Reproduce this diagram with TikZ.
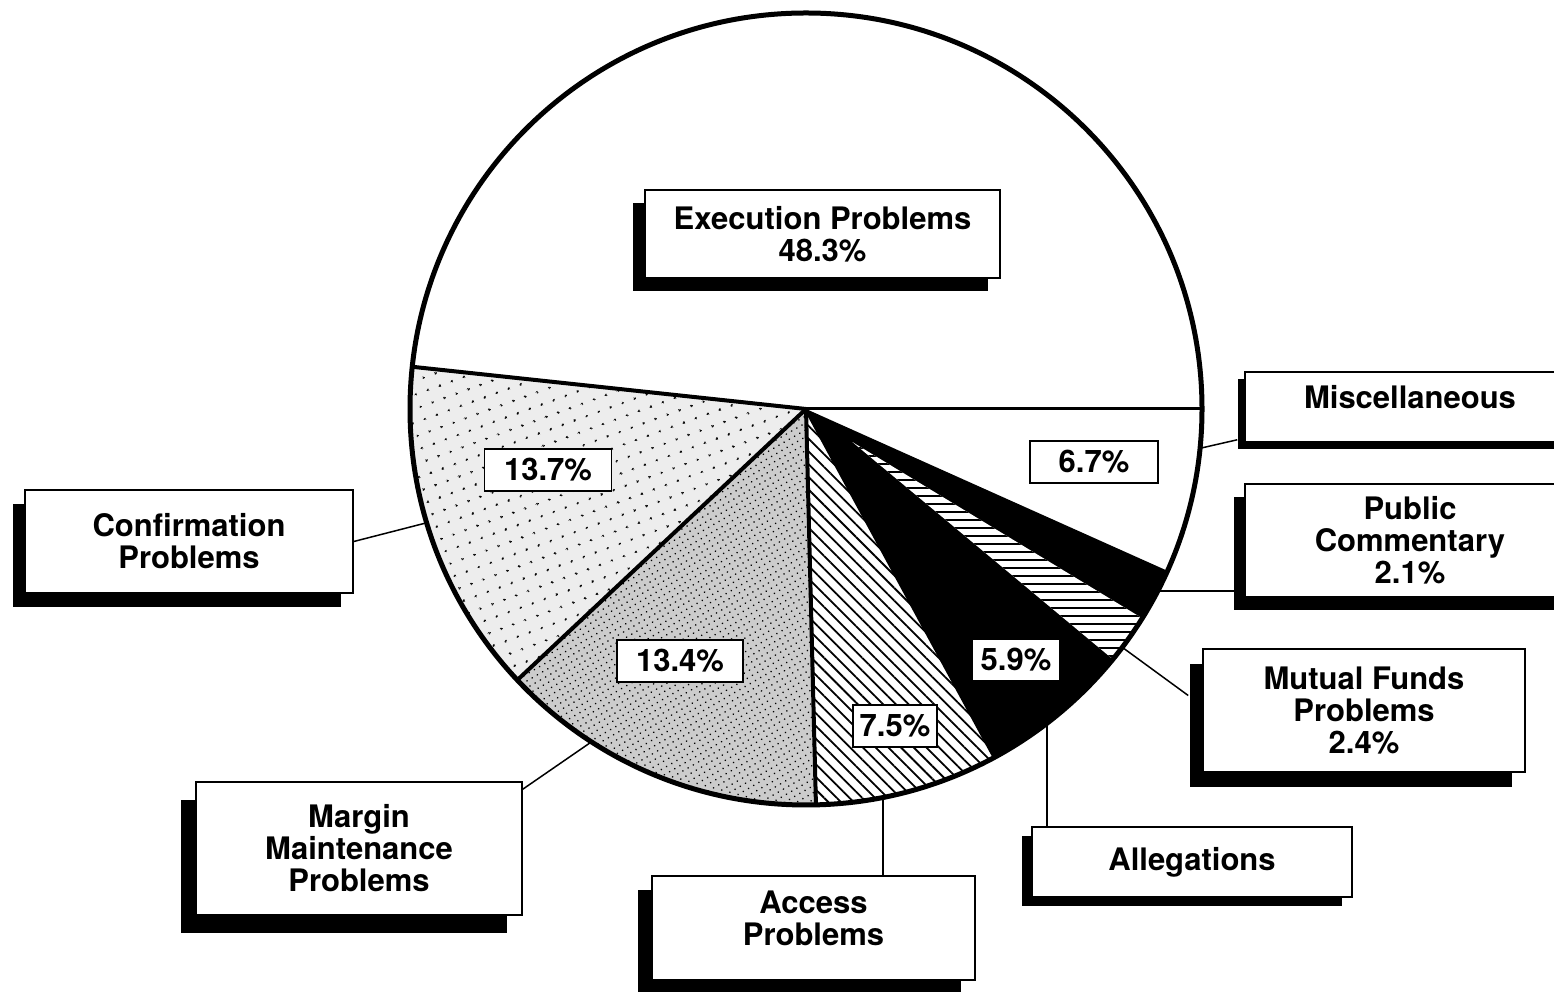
\documentclass[tikz,border=0pt]{standalone}
\usepackage{fontspec}
\setmainfont{TeX Gyre Heros}
\usetikzlibrary{patterns.meta,shadows,calc}
\begin{document}
\begin{tikzpicture}[x=1pt,y=1pt,
  box/.style={draw=black, line width=1.6pt, fill=white, font=\bfseries\fontsize{31}{32}\selectfont, align=center, inner sep=0pt},
  sh/.style 2 args={drop shadow={shadow xshift=#1, shadow yshift=#2, opacity=1, fill=black}},
  pct/.style={draw=black, line width=1.6pt, fill=white, font=\bfseries\fontsize{31}{32}\selectfont, minimum height=42pt, inner sep=0pt},
  conn/.style={line width=1.5pt},
  sep/.style={line width=4pt},
]
\useasboundingbox (0,0) rectangle (1554,992);
\clip (0,0) rectangle (1554,992);
\fill[white] (0,0) rectangle (1554,992);
\coordinate (C) at (806,583);
\def\R{396}
% slices
\path[preaction={fill=black!7}, pattern={Dots[distance=13pt,radius=1.4pt,angle=20]}]
  (C) -- ++(173.88:\R) arc[start angle=173.88, end angle=223.2, radius=\R] -- cycle;
\path[preaction={fill=black!20}, pattern={Dots[distance=6pt,radius=0.9pt,angle=30]}]
  (C) -- ++(223.2:\R) arc[start angle=223.2, end angle=271.44, radius=\R] -- cycle;
\path[preaction={fill=white}, pattern={Lines[angle=-45,distance=9pt,line width=1.8pt]}]
  (C) -- ++(271.44:\R) arc[start angle=271.44, end angle=298.44, radius=\R] -- cycle;
\fill[black] (C) -- ++(298.44:\R) arc[start angle=298.44, end angle=335.88, radius=\R] -- cycle;
\path[preaction={fill=white}, pattern={Lines[angle=0,distance=8pt,line width=2.5pt]}]
  ($(C)+(-35.5:57)$) -- ($(C)+(320.8:\R)$) arc[start angle=320.8, end angle=328.1, radius=\R] -- cycle;
% separators
\draw[line width=3pt] (C) -- ++(0:\R);
\draw[sep] (C) -- ++(173.88:\R);
\draw[sep] (C) -- ++(223.2:\R);
\draw[sep] (C) -- ++(271.44:\R);
\draw[sep] (C) -- ++(298.44:\R);
\draw[line width=5pt] (C) circle[radius=\R];
% main boxes
\node[box, sh={-12pt}{-13pt}, minimum width=355pt, minimum height=88pt] (exec) at (822.5,758) {Execution Problems\\48.3\%};
\node[box, sh={-7pt}{-7pt}, minimum width=330pt, minimum height=70pt, text depth=20pt] (misc) at (1410,585) {Miscellaneous};
\node[box, sh={-11pt}{-13pt}, minimum width=330pt, minimum height=113pt] (public) at (1410,451.5) {Public\\Commentary\\2.1\%};
\node[box, sh={-12pt}{-14pt}, minimum width=328pt, minimum height=103pt] (conf) at (189,450.5) {Confirmation\\Problems};
\node[box, sh={-15pt}{-18pt}, minimum width=326pt, minimum height=133pt] (margin) at (359,143.5) {Margin\\Maintenance\\Problems};
\node[box, sh={-14pt}{-14pt}, minimum width=323pt, minimum height=104pt, text depth=20pt] (access) at (813.5,64) {Access\\Problems};
\node[box, sh={-10pt}{-9pt}, minimum width=320pt, minimum height=70pt] (alleg) at (1192,130) {Allegations};
\node[box, sh={-13pt}{-15pt}, minimum width=322pt, minimum height=123pt] (mutual) at (1364,281.5) {Mutual Funds\\Problems\\2.4\%};
% connectors
\coordinate (pMisc) at ($(C)+(-5.7:\R)$);
\coordinate (pPub) at ($(C)+(-27.4:\R)$);
\coordinate (pMut) at ($(C)+(-37:\R)$);
\coordinate (pAll) at ($(C)+(-52.5:\R)$);
\coordinate (pAcc) at ($(C)+(-78.8:\R)$);
\coordinate (pMar) at ($(C)+(237.2:\R)$);
\coordinate (pConf) at ($(C)+(196.7:\R)$);
\draw[conn] (pMisc) -- ([xshift=-7pt,yshift=3pt]misc.south west);
\draw[conn] (pPub) -- (pPub -| public.west);
\draw[conn] (pMut) -- ([xshift=-14pt,yshift=15pt]mutual.west);
\draw[conn] (pAll) -- (pAll |- alleg.north);
\draw[conn] (pAcc) -- (pAcc |- access.north);
\draw[conn] (pMar) -- ([yshift=-8pt]margin.north east);
\draw[conn] (pConf) -- (conf.east);
% percent labels
\node[pct, minimum width=127pt] (p137) at (548,522) {13.7\%};
\node[pct, minimum width=126pt] (p134) at (680,331) {13.4\%};
\node[pct, minimum width=128pt] (p67) at (1094,530) {6.7\%};
\node[pct, minimum width=88pt] (p59) at (1016,332) {5.9\%};
\node[pct, minimum width=84pt] (p75) at (895,266) {7.5\%};
\end{tikzpicture}
\end{document}
